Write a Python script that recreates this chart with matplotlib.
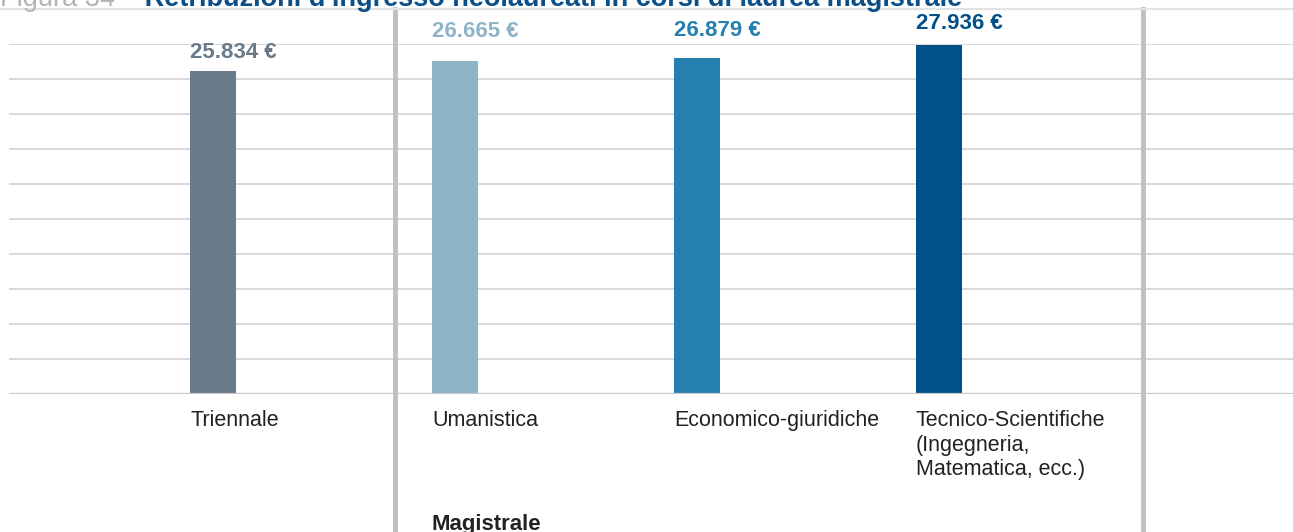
import matplotlib.pyplot as plt
import matplotlib.transforms as mtransforms
import numpy as np

plt.rcParams["font.family"] = ["Liberation Sans", "DejaVu Sans"]

# Dati: retribuzione d'ingresso (euro)
categorie = ["Triennale", "Umanistica", "Economico-giuridiche",
             "Tecnico-Scientifiche\n(Ingegneria,\nMatematica, ecc.)"]
retribuzioni = [25834, 26665, 26879, 27936]
etichette = ["25.834 €", "26.665 €", "26.879 €", "27.936 €"]
colori = ["#697b8a", "#8fb4c8", "#2580b0", "#005187"]
# distanza (px) tra la cima della barra e l'etichetta del valore
offset_etichette = [8, 19, 17, 11]

W, H = 1293, 532
fig = plt.figure(figsize=(W / 100, H / 100), dpi=100)
ax = fig.add_axes([9 / W, (H - 394) / H, 1 - 9 / W, 350 / H])

x = np.arange(len(categorie))
larghezza = 0.19
ax.bar(x - larghezza / 2, retribuzioni, width=larghezza, align="edge",
       color=colori, zorder=3)

ax.set_xlim(-0.843, 4.463)
ax.set_ylim(0, 28000)
ax.set_yticks(np.arange(0, 28001, 2800))
ax.set_xticks([])
ax.tick_params(left=False, labelleft=False)
ax.grid(axis="y", color="#d8d8d8", linewidth=1.4, zorder=0)
for s in ax.spines.values():
    s.set_visible(False)
ax.axhline(0, color="#c8c8cc", linewidth=1.6, zorder=4)

# valori sopra le barre
for xi, v, lab, c, off in zip(x, retribuzioni, etichette, colori, offset_etichette):
    ax.annotate(lab, (xi - larghezza / 2, v), xytext=(0, off * 0.72),
                textcoords="offset points", ha="left", va="bottom",
                fontsize=16, fontweight="bold", color=c, clip_on=False)

# etichette categorie
for xi, cat in zip(x, categorie):
    ax.text(xi - larghezza / 2, -1300, cat, ha="left", va="top",
            fontsize=15.5, color="#222222", linespacing=1.22)

# separatori verticali tra triennale e magistrale
trans = mtransforms.blended_transform_factory(ax.transData, fig.transFigure)
for xs in [0.752, 3.843]:
    ax.plot([xs, xs], [0, 1 - 9 / H], transform=trans, color="#c0c0c4",
            linewidth=3.5, clip_on=False, zorder=5)

ax.text(1 - larghezza / 2, 2 / H, "Magistrale", transform=trans, ha="left",
        va="baseline", fontsize=16, fontweight="bold", color="#222222")

# titolo (parzialmente tagliato in alto)
fig.add_artist(plt.Line2D([0, 1], [1 - 9 / H, 1 - 9 / H], color="#e2e2e2",
                          linewidth=1.5))
t1 = fig.text(0, 1 - 6 / H, "Figura 34 ", ha="left", va="baseline",
              fontsize=19.5, color="#b4b4b4")
fig.canvas.draw()
bb = t1.get_window_extent()
fig.text(bb.x1 / W, 1 - 6 / H,
         "– Retribuzioni d'ingresso neolaureati in corsi di laurea magistrale",
         ha="left", va="baseline", fontsize=19.5, fontweight="bold",
         color="#0b4f88")

fig.savefig("out.png", dpi=100)
